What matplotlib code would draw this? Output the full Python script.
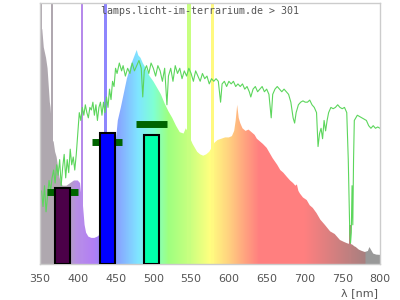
import numpy as np
import matplotlib
matplotlib.use("Agg")
import matplotlib.pyplot as plt
from matplotlib.patches import Polygon

# ---------------- data ----------------
spec_wl = [350, 353, 355, 358, 360, 363, 364, 367, 368, 370, 372, 374, 376, 378, 380, 385, 390,
           395, 400, 403, 404, 407, 409, 411, 414, 418, 422, 426, 428, 430, 435, 440, 445, 449,
           450, 453, 457, 461, 465, 470, 474, 478, 480, 483, 486, 490, 495, 500, 505, 510, 515,
           520, 525, 530, 535, 540, 543, 545, 549, 552, 555, 558, 562, 566, 570, 574, 576, 581,
           585, 590, 595, 600, 604, 607, 609, 611, 613, 615, 618, 622, 626, 630, 634, 637, 641,
           645, 650, 654, 658, 664, 668, 672, 677, 681, 685, 688, 690, 692, 694, 698, 703, 707,
           711, 716, 721, 727, 734, 740, 747, 752, 756, 758, 763, 766, 768, 772, 776, 780, 784,
           786, 788, 791, 795, 800]
spec_val = [90, 90, 83, 79, 75, 62, 60, 47, 47, 43, 41, 37, 33, 31, 30, 30, 31,
            32, 32, 31, 28, 22, 15, 12, 10.5, 10, 10, 10.5, 11, 13, 20, 30, 38, 44,
            46, 55, 60, 65.5, 71, 76, 79, 82, 80, 79, 77, 75, 72, 70, 67.5, 65, 61.5,
            58.5, 56, 53, 50.5, 50, 52, 51, 48, 46, 44.5, 43, 42, 41.5, 42, 43, 44, 46.5,
            47.5, 48, 48.5, 48.5, 49, 51, 55, 61, 56, 54, 52, 51, 51.5, 50.5, 49.5, 48, 47,
            46, 44.5, 42.5, 40.5, 38, 36, 35, 33.3, 32, 31, 30, 30.5, 28, 27, 25.5, 24.5, 22.5,
            21.5, 19.5, 17, 15, 12.5, 11.5, 9.2, 8.5, 8, 7.8, 7.5, 6.8, 6.5, 5.5, 5, 4.6, 5,
            6.5, 5.5, 4, 3.6, 3.5]

line_wl = [351.3, 366, 405.5, 436.7, 547, 578, 760]
line_val = [120, 120, 120, 120, 120, 120, 15]

ref_wl = [352, 354, 356, 358, 360, 362, 364, 366, 368, 370, 372, 374, 376, 378, 380, 382, 384,
          386, 388, 390, 392, 394, 396, 398, 400, 402, 404, 406, 408, 410, 412, 414, 416, 418,
          420, 422, 424, 426, 428, 430, 432, 434, 436, 438, 440, 442, 444, 446, 448, 450, 452,
          455, 458, 460, 463, 466, 469, 472, 475, 478, 481, 484, 486, 488, 491, 494, 497, 500,
          503, 506, 509, 512, 515, 518, 520, 523, 526, 529, 532, 535, 538, 541, 544, 547, 550,
          553, 556, 559, 562, 565, 568, 571, 574, 577, 580, 583, 586, 589, 591, 594, 597, 600,
          603, 606, 609, 612, 615, 618, 621, 624, 627, 629, 632, 635, 638, 641, 644, 647, 650,
          653, 656, 658, 661, 664, 667, 670, 673, 676, 679, 682, 685, 687, 689, 692, 695, 698,
          701, 704, 707, 710, 713, 716, 718, 720, 722, 724, 726, 728, 730, 732, 735, 738, 741,
          744, 747, 750, 753, 756, 758, 760, 761, 762, 763, 764, 765, 766, 768, 770, 773, 776,
          779, 782, 785, 788, 791, 794, 797, 800]
ref_val = [28, 22, 30, 20, 26, 32, 28, 33, 36, 31, 38, 34, 40, 30, 37, 42, 33,
           40, 35, 44, 38, 41, 36, 42, 50, 58, 55, 60, 57, 61, 58, 56, 60, 59,
           62, 57, 61, 55, 60, 62, 57, 62, 58, 64, 60, 67, 63, 70, 68, 75, 73,
           77, 74, 76, 72, 75, 73, 77, 74, 76, 78, 75, 64, 74, 76, 73, 77, 75,
           72, 76, 74, 70, 75, 61, 72, 75, 70, 76, 73, 75, 71, 74, 72, 75, 73,
           70, 74, 72, 70, 73, 71, 72, 69, 71, 70, 71, 70, 62, 69, 70, 68, 70,
           69, 70, 68, 69, 68, 69, 67, 68, 66, 64, 67, 68, 66, 67, 68, 66, 67,
           65, 56, 65, 67, 68, 67, 66, 67, 66, 65, 62, 56, 54, 58, 61, 62, 62.5,
           62, 62, 62.8, 61, 60, 58, 45, 50, 52, 48, 55, 51, 55, 58, 60, 59.5, 60,
           61, 60, 59.5, 60, 58, 40, 12, 8, 12, 30, 15, 40, 55, 56, 57, 56.5, 56,
           55.5, 55, 53, 52, 53, 52, 52.5, 52]

bar_wl = [379.6, 438.9, 497.5]
bar_val = [29.2, 50.1, 49.3]
marker_val = [27.6, 46.9, 53.8]
xticks = [350, 400, 450, 500, 550, 600, 650, 700, 750, 800]
title = "lamps.licht-im-terrarium.de > 301"

# ---------------- style ----------------
stops_wl = [350, 385, 398, 420, 440, 455, 480, 500, 520, 550, 575, 600, 620, 640, 700, 780, 782, 800]
stops_rgb = [(0.69, 0.66, 0.69), (0.69, 0.66, 0.69), (0.72, 0.56, 0.90), (0.70, 0.50, 0.96),
             (0.53, 0.53, 1.00), (0.53, 0.66, 1.00), (0.50, 0.90, 1.00), (0.50, 1.00, 0.83),
             (0.62, 1.00, 0.50), (0.80, 1.00, 0.50), (1.00, 1.00, 0.50), (1.00, 0.82, 0.50),
             (1.00, 0.65, 0.50), (1.00, 0.50, 0.50), (1.00, 0.50, 0.50), (0.66, 0.50, 0.50),
             (0.60, 0.60, 0.60), (0.60, 0.60, 0.60)]
stops_rgb = np.array(stops_rgb)


def spec_color(w):
    w = np.asarray(w, dtype=float)
    return np.stack([np.interp(w, stops_wl, stops_rgb[:, i]) for i in range(3)], axis=-1)


line_widths = [2.6, 2.6, 2.6, 4, 5, 4, 2]
bar_colors = ["#4b0048", "#0000ff", "#00ffaa"]
bar_width = 19.5
marker_width = 40.5

fig = plt.figure(figsize=(4, 3), dpi=100)
ax = fig.add_axes([0.1, 0.12, 0.85, 0.87])

grid = np.arange(350, 800.25, 0.25)
img = spec_color(grid)[np.newaxis, :, :]
im = ax.imshow(img, extent=(350, 800, 0, 100), aspect="auto", zorder=1, interpolation="nearest")
verts = [(spec_wl[0], 0)] + list(zip(spec_wl, spec_val)) + [(spec_wl[-1], 0)]
poly = Polygon(verts, closed=True, transform=ax.transData)
im.set_clip_path(poly)

ax.bar(line_wl, line_val, width=line_widths, color=[tuple(spec_color(w)) for w in line_wl],
       linewidth=0, zorder=1.5)

ax.plot(ref_wl, ref_val, color="#5cd65c", lw=0.8, zorder=2)

ax.hlines(marker_val, [w - marker_width / 2 for w in bar_wl], [w + marker_width / 2 for w in bar_wl],
          colors="#006400", lw=5, zorder=3)
ax.bar(bar_wl, bar_val, width=bar_width, color=bar_colors, edgecolor="black", linewidth=1.5, zorder=4)

ax.set_xlim(350, 800)
ax.set_ylim(0, 100)
ax.set_xticks(xticks)
ax.set_yticks([])
ax.tick_params(axis="x", length=0, pad=7, labelsize=8, labelcolor="#555555")
for s in ax.spines.values():
    s.set_color("#cccccc")
    s.set_linewidth(1)

fig.text(0.5, 1 - 11 / 300, title, ha="center", va="center", family="DejaVu Sans Mono",
         fontsize=7.2, color="#555555", zorder=10)
fig.text(0.945, 0.012, "λ [nm]", ha="right", va="baseline", fontsize=8, color="#555555")

fig.savefig("out.png", dpi=100)
